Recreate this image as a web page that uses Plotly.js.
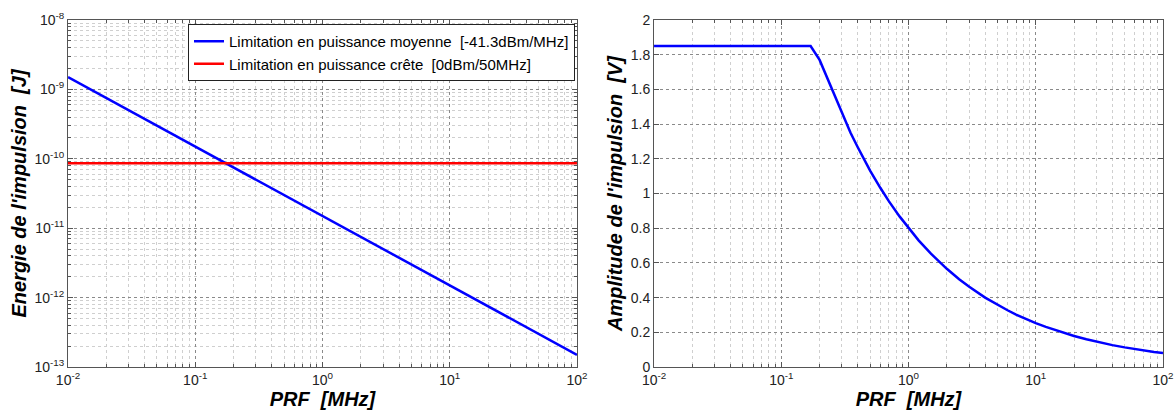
<!DOCTYPE html>
<html><head><meta charset="utf-8">
<script src="https://cdn.plot.ly/plotly-3.0.1.min.js"></script>
<style>html,body{margin:0;padding:0;background:#fff}</style>
</head><body><div id="chart" style="width:1175px;height:414px"></div>
<script>
// ---- data ----
const prfEnergy = [0.01, 0.1, 1, 10, 100];
const energyMean = [1.5e-9, 1.5e-10, 1.5e-11, 1.5e-12, 1.5e-13];
const prfPeak = [0.01, 100];
const energyPeak = [8.6e-11, 8.6e-11];
const prfAmp = [0.01, 0.17, 0.2, 0.25, 0.3, 0.35, 0.4, 0.5, 0.6, 0.7, 0.85, 1, 1.2, 1.5, 2, 2.5, 3, 4, 5, 6, 7, 8.5, 10, 12, 15, 20, 25, 30, 40, 50, 60, 70, 85, 100];
const amplitude = [1.85, 1.85, 1.77, 1.60, 1.46, 1.35, 1.265, 1.13, 1.033, 0.956, 0.868, 0.80, 0.73, 0.653, 0.566, 0.506, 0.462, 0.40, 0.358, 0.327, 0.302, 0.274, 0.253, 0.231, 0.207, 0.179, 0.16, 0.146, 0.126, 0.113, 0.103, 0.096, 0.087, 0.081];
const legendNames = ['Limitation en puissance moyenne\u00a0 [-41.3dBm/MHz]', 'Limitation en puissance crête\u00a0 [0dBm/50MHz]'];
const xTickVals = [0.01, 0.1, 1, 10, 100];
const xTickText = ['10<sup>-2</sup>', '10<sup>-1</sup>', '10<sup>0</sup>', '10<sup>1</sup>', '10<sup>2</sup>'];
const yTickVals = [1e-13, 1e-12, 1e-11, 1e-10, 1e-9, 1e-8];
const yTickText = ['10<sup>-13</sup>', '10<sup>-12</sup>', '10<sup>-11</sup>', '10<sup>-10</sup>', '10<sup>-9</sup>', '10<sup>-8</sup>'];
const xTitle = 'PRF\u00a0 [MHz]';
const yTitleLeft = 'Energie de l\'impulsion\u00a0 [J]';
const yTitleRight = 'Amplitude de l\'impulsion\u00a0 [V]';

function minorVals(e0, e1) {
  const v = [];
  for (let e = e0; e < e1; e++) for (let k = 2; k <= 9; k++) v.push(k * Math.pow(10, e));
  return v;
}

const FONT = 'Liberation Sans, Arial, sans-serif';
const axisCommon = {
  showline: true, linecolor: '#555', linewidth: 1, mirror: 'ticks',
  ticks: 'inside', ticklen: 5, tickcolor: '#555',
  showgrid: true, gridcolor: '#8a8a8a', griddash: 'dot', gridwidth: 1,
  zeroline: false, tickfont: {family: FONT, size: 14, color: '#222'}
};
const titleFont = {family: FONT, size: 20, color: '#000', weight: 'bold', style: 'italic'};

function logX(domain, anchor) {
  return Object.assign({}, axisCommon, {
    type: 'log', range: [-2, 2], domain: domain, anchor: anchor,
    tickmode: 'array', tickvals: xTickVals, ticktext: xTickText,
    minor: {tickmode: 'array', tickvals: minorVals(-2, 2), ticks: 'inside', ticklen: 3, tickcolor: '#555',
            showgrid: true, gridcolor: '#cfcfcf', griddash: 'dot', gridwidth: 1},
    title: {text: xTitle, font: titleFont, standoff: 2}
  });
}

const traces = [
  {x: prfEnergy, y: energyMean, name: legendNames[0], mode: 'lines', line: {color: '#0000ff', width: 2.5}, xaxis: 'x', yaxis: 'y'},
  {x: prfPeak, y: energyPeak, name: legendNames[1], mode: 'lines', line: {color: '#ff0000', width: 2.5}, xaxis: 'x', yaxis: 'y'},
  {x: prfAmp, y: amplitude, mode: 'lines', showlegend: false, line: {color: '#0000ff', width: 2.5}, xaxis: 'x2', yaxis: 'y2'}
];

const layout = {
  width: 1175, height: 414,
  margin: {l: 68, r: 12, t: 20, b: 47},
  paper_bgcolor: '#fff', plot_bgcolor: '#fff',
  showlegend: true,
  legend: {x: 0.463, y: 0.9885, xanchor: 'right', yanchor: 'top', bgcolor: '#fff',
           bordercolor: '#222', borderwidth: 1, font: {family: FONT, size: 15, color: '#000'},
           tracegroupgap: 0, itemwidth: 30},
  xaxis: logX([0, 0.4648], 'y'),
  yaxis: Object.assign({}, axisCommon, {
    type: 'log', range: [-13, -8], anchor: 'x',
    tickmode: 'array', tickvals: yTickVals, ticktext: yTickText,
    minor: {tickmode: 'array', tickvals: minorVals(-13, -8), ticks: 'inside', ticklen: 3, tickcolor: '#555',
            showgrid: true, gridcolor: '#cfcfcf', griddash: 'dot', gridwidth: 1},
    title: {text: yTitleLeft, font: titleFont, standoff: 2}
  }),
  xaxis2: logX([0.5352, 1], 'y2'),
  yaxis2: Object.assign({}, axisCommon, {
    range: [0, 2], dtick: 0.2, tick0: 0, anchor: 'x2',
    title: {text: yTitleRight, font: titleFont, standoff: 2}
  })
};

Plotly.newPlot('chart', traces, layout, {displayModeBar: false, staticPlot: true});
</script></body></html>
